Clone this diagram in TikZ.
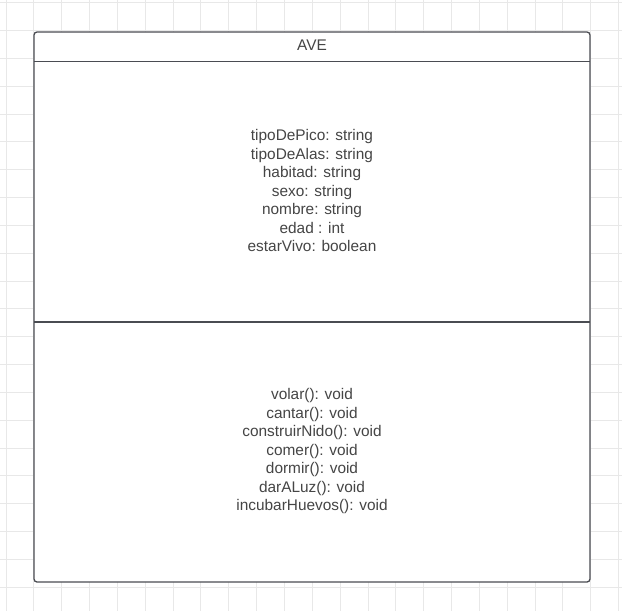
\documentclass[tikz,border=0pt]{standalone}
\usepackage{fontspec}
\setmainfont{Liberation Sans}
\usepackage{tikz}
\usetikzlibrary{positioning}

\definecolor{gridcol}{HTML}{E8E8E8}
\definecolor{framecol}{HTML}{4A4C52}
\definecolor{textcol}{HTML}{454545}

\begin{document}
\begin{tikzpicture}[x=1pt,y=-1pt,
      frame/.style={draw=framecol,line width=1.3pt},
      member/.style={text=textcol,align=center,inner sep=0pt,
        font=\fontsize{15.4}{18.5}\selectfont}]

    \useasboundingbox (0,0) rectangle (622,611);
    \fill[white] (0,0) rectangle (622,611);

    % background grid
    \foreach \k in {0,...,22}
      \draw[gridcol,line width=0.8pt] ({6+27.84*\k},0) -- ({6+27.84*\k},611);
    \foreach \k in {0,...,21}
      \draw[gridcol,line width=0.8pt] (0,{2.7+27.83*\k}) -- (622,{2.7+27.83*\k});

    % class box
    \fill[white] (34,32) rectangle (590,582);
    \draw[frame,rounded corners=3pt] (34,32) rectangle (590,582);
    \draw[frame] (34,61.5) -- (590,61.5);
    \draw[frame] (34,322) -- (590,322);

    \node[member] (title) at (312,45.5) {AVE};

    \node[member] (attrs) at (312,190.5) {tipoDePico: string\\
      tipoDeAlas: string\\ habitad: string\\ sexo: string\\
      nombre: string\\ edad : int\\ estarVivo: boolean};

    \node[member] (meths) at (312,451.5) {volar(): void\\
      cantar(): void\\ construirNido(): void\\ comer(): void\\
      dormir(): void\\ darALuz(): void\\ incubarHuevos(): void};

\end{tikzpicture}
\end{document}
